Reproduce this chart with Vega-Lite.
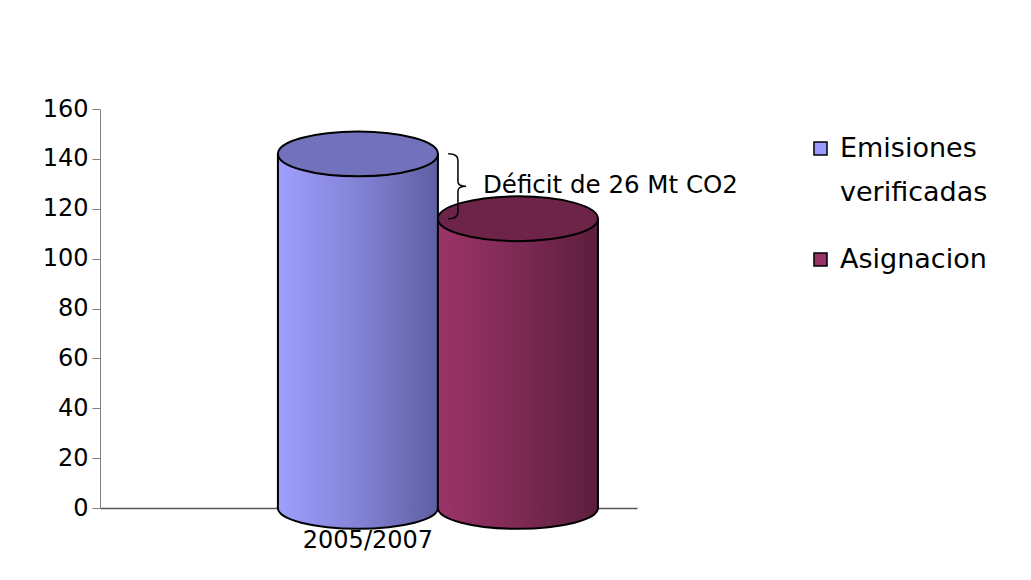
{
  "$schema": "https://vega.github.io/schema/vega-lite/v6.json",
  "width": 537,
  "height": 399,
  "autosize": {"type": "none"},
  "padding": {"left": 100, "top": 109, "right": 394, "bottom": 72},
  "background": "white",
  "config": {"view": {"stroke": null}, "font": "DejaVu Sans"},
  "data": {
    "values": [
      {"periodo": "2005/2007", "serie": "Emisiones verificadas", "valor": 142},
      {"periodo": "2005/2007", "serie": "Asignacion", "valor": 116}
    ]
  },
  "encoding": {
    "x": {
      "field": "periodo",
      "type": "nominal",
      "scale": {"paddingInner": 0, "paddingOuter": 0.339, "align": 0.82},
      "axis": {
        "title": null,
        "labelAngle": 0,
        "labelFontSize": 24,
        "labelColor": "black",
        "labelOffset": -70,
        "labelPadding": 20,
        "ticks": false,
        "domainColor": "#555555",
        "domainWidth": 1.5
      }
    },
    "xOffset": {
      "field": "serie",
      "type": "nominal",
      "sort": ["Emisiones verificadas", "Asignacion"],
      "scale": {"paddingInner": 0, "paddingOuter": 0}
    },
    "y": {
      "field": "valor",
      "type": "quantitative",
      "scale": {"domain": [0, 160]},
      "axis": {
        "title": null,
        "values": [0, 20, 40, 60, 80, 100, 120, 140, 160],
        "labelFontSize": 24,
        "labelColor": "black",
        "tickColor": "#808080",
        "tickSize": 8,
        "labelPadding": 4,
        "domainColor": "#808080",
        "grid": false
      }
    }
  },
  "layer": [
    {
      "mark": {"type": "bar"},
      "encoding": {
        "color": {
          "field": "serie",
          "type": "nominal",
          "scale": {"domain": ["Emisiones verificadas", "Asignacion"], "range": ["#9999FF", "#993366"]},
          "legend": {
            "title": null,
            "orient": "none",
            "legendX": 707,
            "legendY": 26,
            "labelFontSize": 27,
            "labelColor": "black",
            "labelLimit": 400,
            "labelOffset": 6,
            "symbolType": "square",
            "symbolSize": 170,
            "symbolStrokeColor": "black",
            "symbolStrokeWidth": 1.5,
            "rowPadding": 39,
            "labelExpr": "datum.label == 'Emisiones verificadas' ? ['Emisiones', 'verificadas'] : datum.label",
            "encode": {"labels": {"update": {"lineHeight": {"value": 44}}}}
          }
        }
      }
    },
    {
      "transform": [{"filter": "datum.serie == 'Emisiones verificadas'"}],
      "mark": {
        "type": "bar",
        "stroke": "black",
        "strokeWidth": 2,
        "fill": {"gradient": "linear", "x1": 0, "x2": 1, "y1": 0, "y2": 0,
          "stops": [{"offset": 0, "color": "#9E9EFF"}, {"offset": 0.5, "color": "#8383D6"}, {"offset": 1, "color": "#5E5EA2"}]}
      }
    },
    {
      "transform": [{"filter": "datum.serie == 'Emisiones verificadas'"}],
      "mark": {
        "type": "point",
        "filled": true,
        "opacity": 1,
        "size": 25600,
        "shape": "M -1 -0.03 L -1 0 A 1 0.26 0 0 0 1 0 L 1 -0.03",
        "stroke": "black",
        "strokeWidth": 2,
        "fill": {"gradient": "linear", "x1": 0, "x2": 1, "y1": 0, "y2": 0,
          "stops": [{"offset": 0, "color": "#9E9EFF"}, {"offset": 0.5, "color": "#8383D6"}, {"offset": 1, "color": "#5E5EA2"}]}
      },
      "encoding": {"y": {"datum": 0}}
    },
    {
      "transform": [{"filter": "datum.serie == 'Emisiones verificadas'"}],
      "mark": {
        "type": "point",
        "filled": true,
        "opacity": 1,
        "size": 25600,
        "shape": "M -1 0 A 1 0.28 0 1 1 1 0 A 1 0.28 0 1 1 -1 0 Z",
        "stroke": "black",
        "strokeWidth": 2,
        "fill": "#7272BC"
      }
    },
    {
      "transform": [{"filter": "datum.serie == 'Asignacion'"}],
      "mark": {
        "type": "bar",
        "stroke": "black",
        "strokeWidth": 2,
        "fill": {"gradient": "linear", "x1": 0, "x2": 1, "y1": 0, "y2": 0,
          "stops": [{"offset": 0, "color": "#9B3468"}, {"offset": 0.5, "color": "#7E2A54"}, {"offset": 1, "color": "#5C1D3C"}]}
      }
    },
    {
      "transform": [{"filter": "datum.serie == 'Asignacion'"}],
      "mark": {
        "type": "point",
        "filled": true,
        "opacity": 1,
        "size": 25600,
        "shape": "M -1 -0.03 L -1 0 A 1 0.26 0 0 0 1 0 L 1 -0.03",
        "stroke": "black",
        "strokeWidth": 2,
        "fill": {"gradient": "linear", "x1": 0, "x2": 1, "y1": 0, "y2": 0,
          "stops": [{"offset": 0, "color": "#9B3468"}, {"offset": 0.5, "color": "#7E2A54"}, {"offset": 1, "color": "#5C1D3C"}]}
      },
      "encoding": {"y": {"datum": 0}}
    },
    {
      "transform": [{"filter": "datum.serie == 'Asignacion'"}],
      "mark": {
        "type": "point",
        "filled": true,
        "opacity": 1,
        "size": 25600,
        "shape": "M -1 0 A 1 0.28 0 1 1 1 0 A 1 0.28 0 1 1 -1 0 Z",
        "stroke": "black",
        "strokeWidth": 2,
        "fill": "#6E2448"
      }
    },
    {
      "transform": [{"filter": "datum.serie == 'Asignacion'"}],
      "mark": {
        "type": "point",
        "filled": false,
        "opacity": 1,
        "size": 4225,
        "shape": "M -2.146 -1 Q -1.846 -1 -1.846 -0.8 L -1.846 -0.15 Q -1.846 0 -1.596 0 Q -1.846 0 -1.846 0.15 L -1.846 0.8 Q -1.846 1 -2.146 1",
        "stroke": "black",
        "strokeWidth": 1.5
      },
      "encoding": {
        "y": {"datum": 129}
      }
    },
    {
      "transform": [{"filter": "datum.serie == 'Asignacion'"}],
      "mark": {"type": "text", "align": "left", "baseline": "middle", "dx": -35, "fontSize": 24.5, "color": "black"},
      "encoding": {
        "y": {"datum": 129},
        "text": {"value": "Déficit de 26 Mt CO2"}
      }
    }
  ]
}
